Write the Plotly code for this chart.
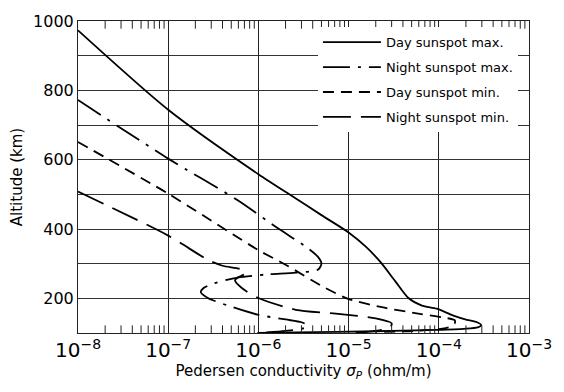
import plotly.graph_objects as go

# Day sunspot max.
day_max_sigma = [1.0e-8, 1.0e-7, 1.0e-6, 2.6e-6, 5.0e-6, 1.0e-5, 1.55e-5, 2.25e-5, 3.3e-5, 4.6e-5, 6.5e-5,
                 9.5e-5, 1.45e-4, 2.05e-4, 2.65e-4, 2.95e-4, 2.7e-4, 1.9e-4, 9.5e-5, 2.0e-5, 2.6e-6, 9.8e-7]
day_max_alt = [973, 744, 558, 488, 440, 390, 349, 305, 249, 201, 179,
               170, 150, 138, 131, 123, 116, 112, 109, 105, 102, 100]

# Night sunspot max.
night_max_sigma = [1.0e-8, 1.0e-7, 5.9e-7, 1.6e-6, 3.4e-6, 4.6e-6, 5.0e-6, 4.6e-6, 2.6e-6, 1.26e-6,
                   5.9e-7, 3.2e-7, 2.45e-7, 2.3e-7, 2.75e-7, 4.6e-7, 9.8e-7, 2.0e-6, 3.0e-6, 3.5e-6,
                   3.2e-6, 2.0e-6, 9.8e-7]
night_max_alt = [772, 603, 483, 404, 348, 319, 300, 283, 274, 269,
                 260, 243, 229, 218, 201, 179, 153, 139, 131, 122,
                 114, 106, 100]

# Day sunspot min.
day_min_sigma = [1.0e-8, 1.0e-7, 1.0e-6, 2.0e-6, 5.6e-6, 1.0e-5, 2.5e-5, 5.9e-5, 1.1e-4, 1.5e-4,
                 1.5e-4, 1.35e-4, 1.0e-4, 5.4e-5, 2.0e-5]
day_min_alt = [651, 502, 339, 297, 229, 198, 173, 156, 145, 137,
               128, 118, 111, 106, 103]

# Night sunspot min.
night_min_sigma = [1.0e-8, 1.0e-7, 2.75e-7, 4.0e-7, 6.6e-7, 7.2e-7, 5.9e-7, 5.5e-7, 6.6e-7, 1.0e-6,
                   2.6e-6, 7.2e-6, 2.0e-5, 3.0e-5, 2.9e-5, 2.0e-5, 1.2e-5]
night_min_alt = [508, 381, 311, 294, 283, 272, 260, 252, 229, 201,
                 167, 156, 142, 128, 117, 106, 100]

series_names = ["Day sunspot max.", "Night sunspot max.", "Day sunspot min.", "Night sunspot min."]
y_tick_vals = [200, 400, 600, 800, 1000]
y_range = [100, 1000]
x_decades = [-8, -7, -6, -5, -4]
x_minor_mults = [2, 3, 4, 5, 6, 7, 8, 9]

FONT = "DejaVu Sans"

# minor log tick positions (2..9 of each decade), drawn on bottom and top frame
minor_tick_vals = [m * 10.0 ** e for e in x_decades for m in x_minor_mults]

fig = go.Figure()
styles = [
    (day_max_sigma, day_max_alt, "solid"),
    (night_max_sigma, night_max_alt, "27px,8px,3px,8px"),
    (day_min_sigma, day_min_alt, "11px,7px"),
    (night_min_sigma, night_min_alt, "28px,10px"),
]
for i, ((xs, ys, dash), name) in enumerate(zip(styles, series_names)):
    fig.add_trace(go.Scatter(
        x=xs, y=ys, mode="lines", name=name, legendgroup=f"g{i}",
        line=dict(color="black", width=1.8, dash=dash, shape="spline", smoothing=0.7),
    ))

# minor tick marks on the frame (half of each marker is clipped by the plot area)
fig.add_trace(go.Scatter(
    x=minor_tick_vals + minor_tick_vals,
    y=[y_range[0]] * len(minor_tick_vals) + [y_range[1]] * len(minor_tick_vals),
    mode="markers", showlegend=False, hoverinfo="skip", cliponaxis=True,
    marker=dict(symbol="line-ns", size=11, color="#222", line=dict(color="#222", width=1)),
))

fig.update_layout(
    width=564, height=392,
    margin=dict(l=78, r=28, t=13, b=59),
    paper_bgcolor="white", plot_bgcolor="white",
    font=dict(family=FONT, size=16, color="black"),
    showlegend=True,
    legend=dict(
        x=0.532, y=0.98, xanchor="left", yanchor="top",
        bgcolor="white", borderwidth=0,
        font=dict(family=FONT, size=13, color="black"),
        itemwidth=58, tracegroupgap=5,
    ),
    xaxis=dict(
        type="log", range=[-8, -3], dtick=1, exponentformat="power",
        showline=True, linecolor="#222", linewidth=1, mirror=True,
        ticks="", showgrid=True, gridcolor="#222", gridwidth=1,
        zeroline=False,
        tickfont=dict(family=FONT, size=16),
        title=dict(text="Pedersen conductivity <i>σ</i><sub><i>P</i></sub> (ohm/m)",
                   font=dict(family=FONT, size=15), standoff=4),
    ),
    yaxis=dict(
        range=y_range, tickmode="array", tickvals=y_tick_vals,
        showline=True, linecolor="#222", linewidth=1, mirror=True,
        ticks="", showgrid=True, gridcolor="#333", gridwidth=1,
        zeroline=False,
        minor=dict(dtick=100, showgrid=True, gridcolor="#333", gridwidth=1, ticks=""),
        tickfont=dict(family=FONT, size=16),
        title=dict(text="Altitude (km)", font=dict(family=FONT, size=15), standoff=6),
    ),
)

fig.write_html("out.html")
